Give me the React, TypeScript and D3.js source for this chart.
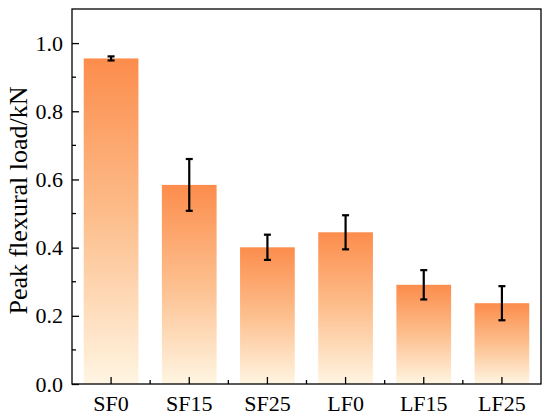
import { useEffect, useRef } from "react";
import * as d3 from "d3";

const categories = ["SF0", "SF15", "SF25", "LF0", "LF15", "LF25"];
const peakLoad = [0.955, 0.584, 0.401, 0.445, 0.291, 0.237];
const errors = [0.006, 0.076, 0.037, 0.05, 0.043, 0.05];
const yTicks = [0, 0.2, 0.4, 0.6, 0.8, 1.0];
const yMinorTicks = [0.1, 0.3, 0.5, 0.7, 0.9];

export default function App() {
  const svgRef = useRef<SVGSVGElement>(null);
  const width = 550;
  const height = 418;

  useEffect(() => {
    if (!svgRef.current) return;
    const svg = d3.select(svgRef.current);
    svg.selectAll("*").remove();

    const margin = { top: 9, right: 9, bottom: 34, left: 72 };
    const innerWidth = width - margin.left - margin.right;
    const innerHeight = height - margin.top - margin.bottom;
    const font = "'Liberation Serif', 'Times New Roman', serif";

    // gradient from orange top to cream bottom, per bar
    const defs = svg.append("defs");
    const grad = defs
      .append("linearGradient")
      .attr("id", "barGrad")
      .attr("x1", 0)
      .attr("y1", 0)
      .attr("x2", 0)
      .attr("y2", 1);
    grad.append("stop").attr("offset", "0%").attr("stop-color", "#fc8d4c");
    grad.append("stop").attr("offset", "50%").attr("stop-color", "#fdbf8e");
    grad.append("stop").attr("offset", "100%").attr("stop-color", "#fff5e2");

    const g = svg
      .append("g")
      .attr("transform", `translate(${margin.left},${margin.top})`);

    const x = d3.scaleBand().domain(categories).range([0, innerWidth]).padding(0);
    const y = d3.scaleLinear().domain([0, 1.1]).range([innerHeight, 0]);
    const barW = x.bandwidth() * 0.7;

    // bars
    g.selectAll(".bar")
      .data(categories)
      .enter()
      .append("rect")
      .attr("class", "bar")
      .attr("x", (d) => (x(d) ?? 0) + (x.bandwidth() - barW) / 2)
      .attr("width", barW)
      .attr("y", (_, i) => y(peakLoad[i]))
      .attr("height", (_, i) => innerHeight - y(peakLoad[i]))
      .attr("fill", "url(#barGrad)");

    // error bars
    const eb = g
      .selectAll(".err")
      .data(categories)
      .enter()
      .append("g")
      .attr("class", "err")
      .attr("stroke", "#000")
      .attr("stroke-width", 2.2);
    const cx = (d: string) => (x(d) ?? 0) + x.bandwidth() / 2;
    eb.append("line")
      .attr("x1", cx)
      .attr("x2", cx)
      .attr("y1", (_, i) => y(peakLoad[i] + errors[i]))
      .attr("y2", (_, i) => y(peakLoad[i] - errors[i]));
    eb.append("line")
      .attr("x1", (d) => cx(d) - 3.5)
      .attr("x2", (d) => cx(d) + 3.5)
      .attr("y1", (_, i) => y(peakLoad[i] + errors[i]))
      .attr("y2", (_, i) => y(peakLoad[i] + errors[i]));
    eb.append("line")
      .attr("x1", (d) => cx(d) - 3.5)
      .attr("x2", (d) => cx(d) + 3.5)
      .attr("y1", (_, i) => y(peakLoad[i] - errors[i]))
      .attr("y2", (_, i) => y(peakLoad[i] - errors[i]));

    // y axis
    const yAxis = g
      .append("g")
      .call(
        d3
          .axisLeft(y)
          .tickValues(yTicks)
          .tickFormat(d3.format(".1f"))
          .tickSizeInner(-7)
          .tickSizeOuter(0)
          .tickPadding(9)
      );
    yAxis.attr("font-family", null).attr("font-size", null);
    yAxis
      .selectAll("text")
      .style("font-size", "22px")
      .style("font-family", font)
      .attr("fill", "#000");
    yAxis.select(".domain").remove();
    yAxis.selectAll(".tick line").attr("stroke-width", 1.3);

    g.append("g")
      .selectAll("line")
      .data(yMinorTicks)
      .enter()
      .append("line")
      .attr("x1", 0)
      .attr("x2", 4)
      .attr("y1", (d) => y(d))
      .attr("y2", (d) => y(d))
      .attr("stroke", "#000")
      .attr("stroke-width", 1.3);

    // x axis
    const xAxis = g
      .append("g")
      .attr("transform", `translate(0,${innerHeight})`)
      .call(d3.axisBottom(x).tickSizeInner(-7).tickSizeOuter(0).tickPadding(11));
    xAxis.attr("font-family", null).attr("font-size", null);
    xAxis
      .selectAll("text")
      .style("font-size", "22px")
      .style("font-family", font)
      .attr("fill", "#000");
    xAxis.select(".domain").remove();
    xAxis.selectAll(".tick line").attr("stroke-width", 1.3);

    g.append("g")
      .selectAll("line")
      .data(categories.slice(1))
      .enter()
      .append("line")
      .attr("x1", (d) => x(d) ?? 0)
      .attr("x2", (d) => x(d) ?? 0)
      .attr("y1", innerHeight)
      .attr("y2", innerHeight - 4)
      .attr("stroke", "#000")
      .attr("stroke-width", 1.3);

    // frame
    g.append("rect")
      .attr("width", innerWidth)
      .attr("height", innerHeight)
      .attr("fill", "none")
      .attr("stroke", "#000")
      .attr("stroke-width", 1.3);

    // y label
    svg
      .append("text")
      .attr("transform", `translate(27,200.5) rotate(-90)`)
      .attr("text-anchor", "middle")
      .style("font-size", "26px")
      .style("font-family", font)
      .attr("fill", "#000")
      .text("Peak flexural load/kN");

    return () => {
      svg.selectAll("*").remove();
    };
  }, []);

  return (
    <svg
      ref={svgRef}
      width={width}
      height={height}
      style={{ position: "absolute", left: 0, top: 0, background: "#fff" }}
    />
  );
}
